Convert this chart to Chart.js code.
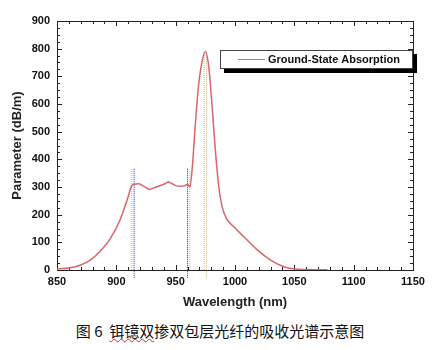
<!DOCTYPE html>
<html>
<head>
<meta charset="utf-8">
<script src="https://cdn.jsdelivr.net/npm/chart.js@4.4.1/dist/chart.umd.min.js"></script>
<style>
  body { margin: 0; background: #fff; }
  #wrap { position: relative; width: 440px; height: 310px; }
  #caption {
    position: absolute; left: 0; top: 321px; width: 440px;
    text-align: center; font-family: "Noto Sans CJK SC", sans-serif;
    font-size: 15px; line-height: 20px; color: #111;
  }
  #caption .sq { text-decoration: underline wavy #d03030; text-decoration-thickness: 1px; }
</style>
</head>
<body>
<div id="wrap"><canvas id="chart"></canvas></div>
<div id="caption">图 6 &nbsp;<span class="sq">铒镱双</span>掺双包层光纤的吸收光谱示意图</div>

<script>
/* ---- data ---- */
const wavelengths = [850, 860, 870, 878, 886, 895, 903, 909, 913, 915, 919, 922, 925, 928, 931, 935,
  940, 944, 947, 950, 954, 958, 960, 962, 964, 966.6, 969.4, 972.3, 975, 978, 980.8, 983.6,
  986.4, 989.2, 993, 999, 1007.5, 1019, 1030, 1041, 1050, 1060, 1078];
const absorption = [4, 7, 18, 36, 66, 114, 180, 252, 305, 310, 312, 305, 298, 291, 296, 302,
  310, 318, 312, 305, 303, 305, 310, 300, 370, 529, 672, 755, 790, 731, 587, 425,
  300, 228, 185, 156, 120, 72, 36, 12, 4, 2, 1];

// dotted marker lines: wavelength, bottom and top value
const blueMarkX = [915, 960];
const blueMarkFrom = [-28, -28];
const blueMarkTo = [368, 368];
const orangeMarkX = [913, 962, 974, 976];
const orangeMarkFrom = [0, 0, 0, -28];
const orangeMarkTo = [365, 362, 785, 790];

const xTicks = { min: 850, max: 1150, step: 50, minor: 10 };
const yTicks = { min: 0, max: 900, step: 100, minor: 25 };

const seriesLabel = 'Ground-State Absorption';
const lineColor = '#d9666a';
const tickFont = { family: 'Liberation Sans', size: 11, weight: 'bold' };
const titleFont = { family: 'Liberation Sans', size: 13, weight: 'bold' };

/* Helper: zip x/y arrays into points */
function toPoints(xs, ys) {
  return xs.map((x, i) => ({ x: x, y: ys[i] }));
}

/* Helper: one vertical dotted line dataset */
function markLine(x, from, to, color) {
  return {
    data: [{ x: x, y: from }, { x: x, y: to }],
    borderColor: color,
    borderWidth: 1,
    borderDash: [1, 1],
    pointRadius: 0,
    clip: false,
    fill: false
  };
}

/* Plugin: frame box with inward ticks on all four sides, plus boxed legend */
const frameTicks = {
  id: 'frameTicks',
  beforeDatasetsDraw(chart) {
    const { ctx, chartArea: a, scales } = chart;
    ctx.save();
    ctx.strokeStyle = '#222';
    ctx.lineWidth = 1;
    ctx.strokeRect(a.left + 0.5, a.top + 0.5, a.right - a.left, a.bottom - a.top);
    ctx.beginPath();
    for (let v = xTicks.min; v <= xTicks.max; v += xTicks.minor) {
      const px = Math.round(scales.x.getPixelForValue(v)) + 0.5;
      const len = (v - xTicks.min) % xTicks.step === 0 ? 5 : 3;
      ctx.moveTo(px, a.bottom); ctx.lineTo(px, a.bottom - len);
      ctx.moveTo(px, a.top); ctx.lineTo(px, a.top + len);
    }
    for (let v = yTicks.min; v <= yTicks.max; v += yTicks.minor) {
      const py = Math.round(scales.y.getPixelForValue(v)) + 0.5;
      const len = (v - yTicks.min) % yTicks.step === 0 ? 5 : 3;
      ctx.moveTo(a.left, py); ctx.lineTo(a.left + len, py);
      ctx.moveTo(a.right, py); ctx.lineTo(a.right - len, py);
    }
    ctx.stroke();
    ctx.restore();
  },
  afterDraw(chart) {
    const { ctx, chartArea: a } = chart;
    const w = 193, h = 19, x = a.right - w, y = a.top + 29;
    ctx.save();
    ctx.fillStyle = '#000';
    ctx.fillRect(x + 4, y + 4, w, h);
    ctx.fillStyle = '#fff';
    ctx.fillRect(x, y, w, h);
    ctx.strokeStyle = '#444';
    ctx.lineWidth = 1;
    ctx.strokeRect(x + 0.5, y + 0.5, w - 1, h - 1);
    ctx.strokeStyle = lineColor;
    ctx.beginPath();
    ctx.moveTo(x + 18, y + 9.5); ctx.lineTo(x + 45, y + 9.5);
    ctx.stroke();
    ctx.fillStyle = '#111';
    ctx.font = 'bold 11px "Liberation Sans"';
    ctx.textBaseline = 'middle';
    ctx.fillText(seriesLabel, x + 48, y + 10);
    ctx.restore();
  }
};

const datasets = [{
  label: seriesLabel,
  data: toPoints(wavelengths, absorption),
  borderColor: lineColor,
  borderWidth: 1.5,
  pointRadius: 0,
  cubicInterpolationMode: 'monotone',
  fill: false
}];
blueMarkX.forEach((x, i) => datasets.push(markLine(x, blueMarkFrom[i], blueMarkTo[i], '#1428d8')));
orangeMarkX.forEach((x, i) => datasets.push(markLine(x, orangeMarkFrom[i], orangeMarkTo[i], '#f2b035')));

new Chart(document.getElementById('chart'), {
  type: 'line',
  data: { datasets },
  options: {
    responsive: true,
    maintainAspectRatio: false,
    animation: false,
    layout: { padding: { left: 0, top: 21, right: 27, bottom: 0 } },
    plugins: { legend: { display: false }, tooltip: { enabled: false } },
    scales: {
      x: {
        type: 'linear',
        min: xTicks.min, max: xTicks.max,
        ticks: { stepSize: xTicks.step, color: '#111', font: tickFont, padding: 5, callback: v => String(v) },
        grid: { display: false, drawTicks: false },
        border: { display: false },
        title: { display: true, text: 'Wavelength (nm)', color: '#222', font: titleFont, padding: 0 },
        afterFit: s => { s.height = 40; }
      },
      y: {
        min: yTicks.min, max: yTicks.max,
        ticks: { stepSize: yTicks.step, color: '#111', font: tickFont, padding: 7, callback: v => String(v) },
        grid: { display: false, drawTicks: false },
        border: { display: false },
        title: { display: true, text: 'Parameter (dB/m)', color: '#222', font: titleFont, padding: { top: 10, bottom: 0 } },
        afterFit: s => { s.width = 57; }
      }
    }
  },
  plugins: [frameTicks]
});
</script>
</body>
</html>
